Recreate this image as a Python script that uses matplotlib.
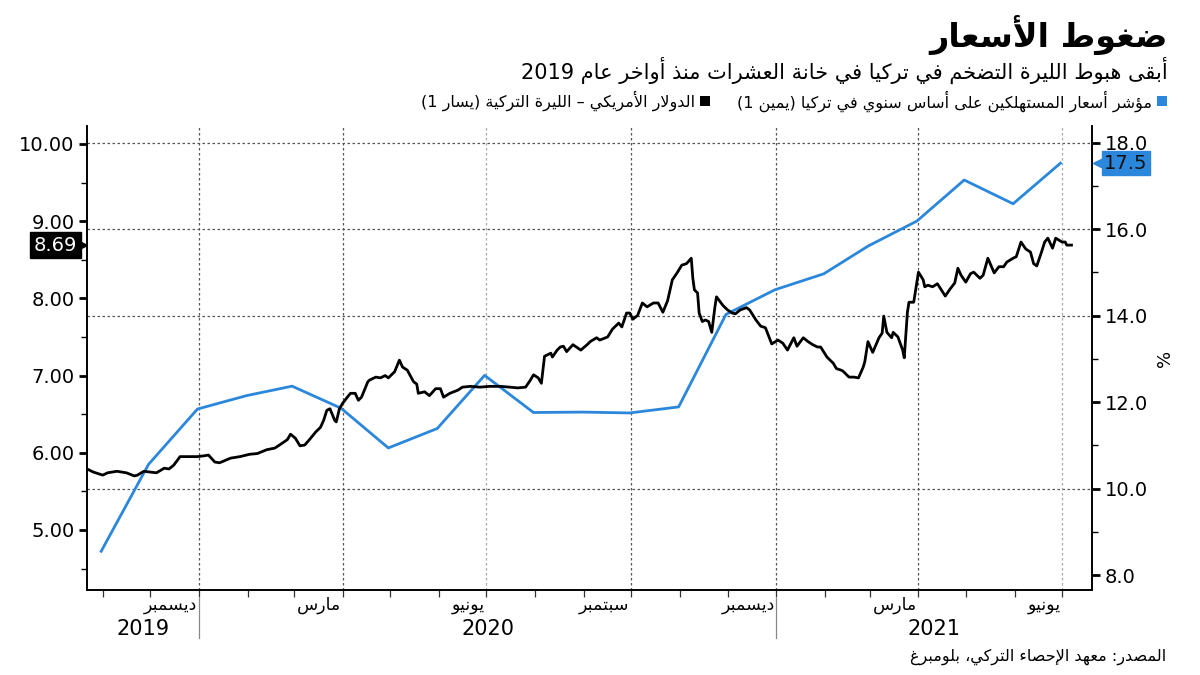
import re
import numpy as np
import pandas as pd
import matplotlib
matplotlib.use('Agg')
import matplotlib.pyplot as plt
import matplotlib.dates as mdates
import matplotlib.transforms as mtrans

plt.rcParams['font.family'] = ['DejaVu Sans']

# ---- data ----
cpi_dates = ['2019-10-31', '2019-11-30', '2019-12-31', '2020-01-31', '2020-02-29', '2020-03-31',
             '2020-04-30', '2020-05-31', '2020-06-30', '2020-07-31', '2020-08-31', '2020-09-30',
             '2020-10-31', '2020-11-30', '2020-12-31', '2021-01-31', '2021-02-28', '2021-03-31',
             '2021-04-30', '2021-05-31', '2021-06-30']
cpi_values = [8.55, 10.56, 11.84, 12.15, 12.37, 11.86, 10.94, 11.39, 12.62, 11.76, 11.77, 11.75,
              11.89, 14.03, 14.60, 14.97, 15.61, 16.19, 17.14, 16.59, 17.53]

fx_dates = [
    '2019-10-22', '2019-10-26', '2019-11-01', '2019-11-04', '2019-11-10', '2019-11-16', '2019-11-21',
    '2019-11-23', '2019-11-27', '2019-12-01', '2019-12-05', '2019-12-10', '2019-12-13', '2019-12-16',
    '2019-12-20', '2019-12-24', '2019-12-31', '2020-01-04', '2020-01-07', '2020-01-11', '2020-01-14',
    '2020-01-21', '2020-01-27', '2020-02-02', '2020-02-07', '2020-02-13', '2020-02-18', '2020-02-21',
    '2020-02-26', '2020-02-28', '2020-03-02', '2020-03-05', '2020-03-08', '2020-03-11', '2020-03-15',
    '2020-03-18', '2020-03-20', '2020-03-22', '2020-03-24', '2020-03-27', '2020-03-28', '2020-03-30',
    '2020-04-01', '2020-04-04', '2020-04-06', '2020-04-09', '2020-04-11', '2020-04-13', '2020-04-17',
    '2020-04-18', '2020-04-22', '2020-04-25', '2020-04-28', '2020-04-30', '2020-05-04', '2020-05-07',
    '2020-05-09', '2020-05-12', '2020-05-16', '2020-05-18', '2020-05-19', '2020-05-23', '2020-05-26',
    '2020-05-30', '2020-06-02', '2020-06-04', '2020-06-08', '2020-06-13', '2020-06-16', '2020-06-21',
    '2020-06-27', '2020-07-03', '2020-07-10', '2020-07-16', '2020-07-21', '2020-07-26', '2020-07-29',
    '2020-07-31', '2020-08-03', '2020-08-05', '2020-08-07', '2020-08-11', '2020-08-12', '2020-08-15',
    '2020-08-17', '2020-08-19', '2020-08-21', '2020-08-25', '2020-08-30', '2020-09-03', '2020-09-05',
    '2020-09-09', '2020-09-11', '2020-09-16', '2020-09-19', '2020-09-23', '2020-09-25', '2020-09-28',
    '2020-09-30', '2020-10-02', '2020-10-05', '2020-10-08', '2020-10-11', '2020-10-15', '2020-10-18',
    '2020-10-21', '2020-10-24', '2020-10-27', '2020-10-30', '2020-11-02', '2020-11-05', '2020-11-08',
    '2020-11-09', '2020-11-10', '2020-11-12', '2020-11-13', '2020-11-15', '2020-11-17', '2020-11-19',
    '2020-11-21', '2020-11-23', '2020-11-24', '2020-11-28', '2020-12-01', '2020-12-04', '2020-12-06',
    '2020-12-09', '2020-12-13', '2020-12-15', '2020-12-19', '2020-12-22', '2020-12-25', '2020-12-29',
    '2021-01-02', '2021-01-05', '2021-01-08', '2021-01-12', '2021-01-14', '2021-01-18', '2021-01-21',
    '2021-01-24', '2021-01-27', '2021-01-29', '2021-02-02', '2021-02-06', '2021-02-08', '2021-02-11',
    '2021-02-12', '2021-02-16', '2021-02-19', '2021-02-22', '2021-02-25', '2021-02-26', '2021-02-28',
    '2021-03-03', '2021-03-07', '2021-03-09', '2021-03-10', '2021-03-12', '2021-03-15', '2021-03-16',
    '2021-03-19', '2021-03-22', '2021-03-23', '2021-03-25', '2021-03-26', '2021-03-29', '2021-04-01',
    '2021-04-04', '2021-04-05', '2021-04-07', '2021-04-10', '2021-04-13', '2021-04-18', '2021-04-21',
    '2021-04-24', '2021-04-26', '2021-04-28', '2021-05-01', '2021-05-04', '2021-05-06', '2021-05-10',
    '2021-05-12', '2021-05-15', '2021-05-19', '2021-05-22', '2021-05-25', '2021-05-27', '2021-05-31',
    '2021-06-02', '2021-06-05', '2021-06-08', '2021-06-11', '2021-06-13', '2021-06-15', '2021-06-18',
    '2021-06-20', '2021-06-22', '2021-06-25', '2021-06-27', '2021-07-01', '2021-07-03', '2021-07-04',
    '2021-07-07']
fx_values = [
    5.79, 5.75, 5.71, 5.74, 5.76, 5.74, 5.70,
    5.71, 5.76, 5.75, 5.74, 5.80, 5.79, 5.84,
    5.95, 5.95, 5.95, 5.96, 5.97, 5.88, 5.87,
    5.93, 5.95, 5.98, 5.99, 6.04, 6.06, 6.10,
    6.17, 6.24, 6.19, 6.09, 6.10, 6.17, 6.27,
    6.33, 6.42, 6.55, 6.57, 6.42, 6.40, 6.57,
    6.64, 6.72, 6.77, 6.77, 6.68, 6.72, 6.92,
    6.94, 6.98, 6.97, 7.00, 6.97, 7.05, 7.20,
    7.11, 7.07, 6.92, 6.89, 6.77, 6.79, 6.74,
    6.83, 6.83, 6.72, 6.77, 6.81, 6.85, 6.86,
    6.85, 6.86, 6.86, 6.85, 6.84, 6.85, 6.94,
    7.01, 6.97, 6.90, 7.25, 7.29, 7.24, 7.33,
    7.37, 7.38, 7.31, 7.40, 7.33, 7.40, 7.44,
    7.49, 7.46, 7.50, 7.60, 7.68, 7.63, 7.81,
    7.81, 7.73, 7.78, 7.94, 7.89, 7.94, 7.94,
    7.82, 7.97, 8.24, 8.33, 8.43, 8.45, 8.52,
    8.26, 8.11, 8.07, 7.81, 7.70, 7.72, 7.70,
    7.56, 7.89, 8.02, 7.91, 7.85, 7.81, 7.80,
    7.85, 7.88, 7.85, 7.72, 7.64, 7.62, 7.41,
    7.46, 7.42, 7.33, 7.49, 7.38, 7.49, 7.44,
    7.40, 7.37, 7.37, 7.24, 7.16, 7.09, 7.07,
    7.06, 6.98, 6.98, 6.97, 7.11, 7.18, 7.44,
    7.30, 7.49, 7.55, 7.77, 7.56, 7.49, 7.56,
    7.50, 7.33, 7.23, 7.82, 7.95, 7.95, 8.34,
    8.24, 8.15, 8.17, 8.15, 8.19, 8.03, 8.12,
    8.20, 8.39, 8.30, 8.21, 8.32, 8.34, 8.26,
    8.30, 8.52, 8.33, 8.41, 8.41, 8.47, 8.52,
    8.54, 8.73, 8.64, 8.60, 8.45, 8.42, 8.60,
    8.73, 8.78, 8.65, 8.78, 8.73, 8.73, 8.69,
    8.69]

quarter_lines = ['2020-01-01', '2020-04-01', '2020-07-01', '2020-10-01', '2021-01-01', '2021-04-01', '2021-07-01']
month_names = ['ديسمبر', 'مارس', 'يونيو', 'سبتمبر', 'ديسمبر', 'مارس', 'يونيو']
year_names = ['2019', '2020', '2021']
year_bounds = ['2019-10-22', '2020-01-01', '2021-01-01', '2021-07-20']
right_grid = [10, 14, 16, 18]

title = 'ضغوط الأسعار'
subtitle = 'أبقى هبوط الليرة التضخم في تركيا في خانة العشرات منذ أواخر عام 2019'
legend_cpi = 'مؤشر أسعار المستهلكين على أساس سنوي في تركيا (يمين 1)'
legend_fx = 'الدولار الأمريكي – الليرة التركية (يسار 1)'
source = 'المصدر: معهد الإحصاء التركي، بلومبرغ'

BLUE = '#2b87dc'

# ---- minimal Arabic shaping (matplotlib has no bidi / joining) ----
AR_FORMS = {
    '\u0621': (0xFE80, 1), '\u0622': (0xFE81, 2), '\u0623': (0xFE83, 2), '\u0624': (0xFE85, 2),
    '\u0625': (0xFE87, 2), '\u0626': (0xFE89, 4), '\u0627': (0xFE8D, 2), '\u0628': (0xFE8F, 4),
    '\u0629': (0xFE93, 2), '\u062A': (0xFE95, 4), '\u062B': (0xFE99, 4), '\u062C': (0xFE9D, 4),
    '\u062D': (0xFEA1, 4), '\u062E': (0xFEA5, 4), '\u062F': (0xFEA9, 2), '\u0630': (0xFEAB, 2),
    '\u0631': (0xFEAD, 2), '\u0632': (0xFEAF, 2), '\u0633': (0xFEB1, 4), '\u0634': (0xFEB5, 4),
    '\u0635': (0xFEB9, 4), '\u0636': (0xFEBD, 4), '\u0637': (0xFEC1, 4), '\u0638': (0xFEC5, 4),
    '\u0639': (0xFEC9, 4), '\u063A': (0xFECD, 4), '\u0641': (0xFED1, 4), '\u0642': (0xFED5, 4),
    '\u0643': (0xFED9, 4), '\u0644': (0xFEDD, 4), '\u0645': (0xFEE1, 4), '\u0646': (0xFEE5, 4),
    '\u0647': (0xFEE9, 4), '\u0648': (0xFEED, 2), '\u0649': (0xFEEF, 2), '\u064A': (0xFEF1, 4),
}
LAM_ALEF = {'\u0622': 0xFEF5, '\u0623': 0xFEF7, '\u0625': 0xFEF9, '\u0627': 0xFEFB}


def ar(text):
    items = []
    i = 0
    while i < len(text):
        c = text[i]
        if c == '\u0644' and i + 1 < len(text) and text[i + 1] in LAM_ALEF:
            items.append(('LA', text[i + 1]))
            i += 2
        else:
            items.append((c, None))
            i += 1

    def joins_next(it):
        return it[0] in AR_FORMS and AR_FORMS[it[0]][1] == 4

    def joins_prev(it):
        return it[0] == 'LA' or (it[0] in AR_FORMS and AR_FORMS[it[0]][1] >= 2)

    out = []
    for k, it in enumerate(items):
        prev = k > 0 and joins_next(items[k - 1]) and joins_prev(it)
        nxt = k + 1 < len(items) and joins_next(it) and joins_prev(items[k + 1])
        if it[0] == 'LA':
            out.append(chr(LAM_ALEF[it[1]] + (1 if prev else 0)))
        elif it[0] in AR_FORMS:
            base = AR_FORMS[it[0]][0]
            idx = 3 if (prev and nxt) else 1 if prev else 2 if nxt else 0
            out.append(chr(base + idx))
        else:
            out.append(it[0])
    s = ''.join(out)[::-1]
    s = re.sub(r'[0-9.]+', lambda m: m.group(0)[::-1], s)
    return s.translate(str.maketrans('()', ')('))


cpi_x = pd.to_datetime(cpi_dates)
fx_x = pd.to_datetime(fx_dates)

fig = plt.figure(figsize=(12, 6.75), dpi=100)
ax1 = fig.add_axes([87 / 1200, 85 / 675, 1005 / 1200, 464 / 675])
ax2 = ax1.twinx()

ax1.set_xlim(pd.Timestamp('2019-10-22'), pd.Timestamp('2021-07-20'))
ax1.set_ylim(4.222, 10.233)
ax2.set_ylim(7.653, 18.39)

# grid
for v in right_grid:
    ax2.axhline(v, color='#555555', lw=0.9, ls=(0, (2, 2)), zorder=0)
for d in quarter_lines:
    col = '#aaaaaa' if d.endswith('07-01') else '#555555'
    ax2.axvline(pd.Timestamp(d), color=col, lw=0.9, ls=(0, (2, 2)), zorder=0)

ax2.plot(cpi_x, cpi_values, color=BLUE, lw=2.0, zorder=3)
ax1.plot(fx_x, fx_values, color='black', lw=2.0, zorder=3)
ax1.set_zorder(ax2.get_zorder() + 1)
ax1.patch.set_visible(False)

# spines / ticks
for ax in (ax1, ax2):
    ax.spines['top'].set_visible(False)
    for s in ('left', 'right', 'bottom'):
        ax.spines[s].set_linewidth(1.2)
ax1.set_yticks(np.arange(5, 10.01, 1))
ax1.set_yticks(np.arange(4.5, 10.01, 1), minor=True)
ax1.yaxis.set_major_formatter(plt.FuncFormatter(lambda v, p: f'{v:.2f}'))
ax1.tick_params(axis='y', which='major', length=6, width=2, labelsize=14, pad=3)
ax1.tick_params(axis='y', which='minor', length=4, width=1)

ax2.set_yticks(np.arange(8, 18.01, 2))
ax2.set_yticks(np.arange(9, 18.01, 2), minor=True)
ax2.yaxis.set_major_formatter(plt.FuncFormatter(lambda v, p: f'{v:.1f}'))
ax2.tick_params(axis='y', which='major', length=6, width=2, labelsize=14, pad=3)
ax2.tick_params(axis='y', which='minor', length=4, width=1)
ax2.set_ylabel('%', fontsize=13, labelpad=6)

ax1.xaxis.set_major_locator(mdates.MonthLocator())
ax1.xaxis.set_major_formatter(plt.NullFormatter())
ax1.tick_params(axis='x', which='major', length=5, width=0.9, color='#333333')

# month and year labels below axis
tx = mtrans.blended_transform_factory(ax1.transData, ax1.transAxes)
for d, name in zip(quarter_lines, month_names):
    ax1.text(pd.Timestamp(d) - pd.Timedelta(days=1), -0.032, ar(name), transform=tx,
             ha='right', va='center', fontsize=12.5)
bounds = pd.to_datetime(year_bounds)
for k, yname in enumerate(year_names):
    mid = bounds[k] + (bounds[k + 1] - bounds[k]) / 2
    ax1.text(mid, -0.083, yname, transform=tx, ha='center', va='center', fontsize=15)
for b in bounds[1:3]:
    ax1.plot([b, b], [-0.017, -0.103], transform=tx, color='#888888', lw=0.9, clip_on=False)

# last-value tags
t1 = mtrans.blended_transform_factory(ax1.transAxes, ax1.transData)
ax1.annotate(f'{fx_values[-1]:.2f}', xy=(0, fx_values[-1]), xycoords=t1, xytext=(-10, 0),
             textcoords='offset pixels', ha='right', va='center', color='white', fontsize=14,
             bbox=dict(boxstyle='square,pad=0.2', fc='black', ec='black'), annotation_clip=False)
ax1.plot([-0.006], [fx_values[-1]], transform=t1, marker='>', ms=9, color='black', clip_on=False)
t2 = mtrans.blended_transform_factory(ax2.transAxes, ax2.transData)
ax2.annotate(f'{cpi_values[-1]:.1f}', xy=(1, cpi_values[-1]), xycoords=t2, xytext=(12, 0),
             textcoords='offset pixels', ha='left', va='center', color='#111111', fontsize=14,
             bbox=dict(boxstyle='square,pad=0.12', fc=BLUE, ec=BLUE), annotation_clip=False)
ax2.plot([1.007], [cpi_values[-1]], transform=t2, marker='<', ms=9, color=BLUE, clip_on=False)

# titles, legend, source
fig.text(1168 / 1200, 1 - 35 / 675, ar(title), ha='right', va='center', fontsize=24, fontweight='bold')
fig.text(1168 / 1200, 1 - 70 / 675, ar(subtitle), ha='right', va='center', fontsize=15)
fig.patches.append(plt.Rectangle((1157 / 1200, 1 - 106 / 675), 10 / 1200, 10 / 675,
                                 transform=fig.transFigure, fc=BLUE, ec='none'))
fig.text(1152 / 1200, 1 - 101 / 675, ar(legend_cpi), ha='right', va='center', fontsize=11.5)
fig.patches.append(plt.Rectangle((700 / 1200, 1 - 106 / 675), 10 / 1200, 10 / 675,
                                 transform=fig.transFigure, fc='black', ec='none'))
fig.text(695 / 1200, 1 - 101 / 675, ar(legend_fx), ha='right', va='center', fontsize=11.5)
fig.text(1166 / 1200, 1 - 657 / 675, ar(source), ha='right', va='center', fontsize=11.5)

fig.savefig('out.png', dpi=100)
